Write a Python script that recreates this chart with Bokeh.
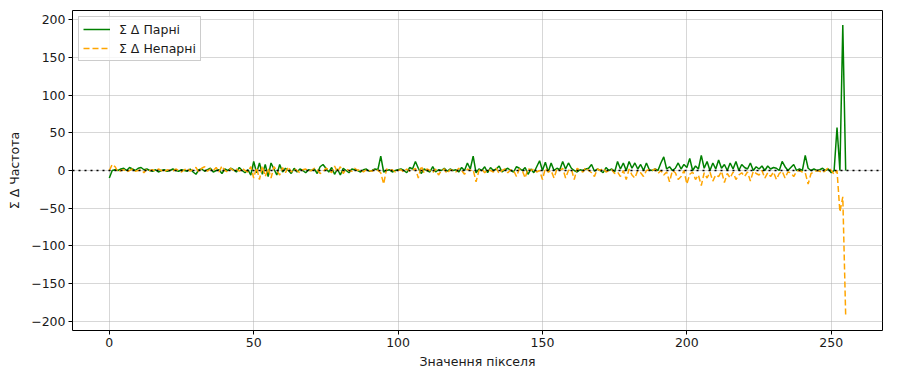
from bokeh.plotting import figure
from bokeh.models import Span, Range1d, FixedTicker, CustomJSTickFormatter, Legend, LegendItem
from bokeh.embed import file_html
from bokeh.resources import INLINE

pixels = list(range(256))

even_diff = [
    -10, 0, 1, 0, 2, 3, 0, 4, 2, 0, 3, 4, 1, 2, 0, -1,
    1, -2, 0, 1, -1, 0, 2, 0, -1, 1, 0, -1, 2, -2, -5, 1,
    2, -1, 1, 3, -2, 0, 1, -4, 2, 0, 3, 1, -2, 4, 0, -3,
    1, -6, 12, -3, 10, -5, 8, -8, 10, 2, -6, 8, -2, 3, 0, -4,
    3, -2, 2, 0, -3, 1, 0, 2, -4, 5, 8, 3, -2, 4, -5, 2,
    -6, 3, 0, -3, 2, 1, 0, -2, 1, 2, -1, 0, 2, 1, 19, -2,
    0, 1, -2, 0, 1, 2, 0, -3, 4, 2, 12, 3, -4, 2, 0, -2,
    5, -2, 1, 0, 3, -1, 2, 0, 1, -2, 4, 0, 10, 2, 19, -3,
    2, 0, 5, -3, 4, 0, 2, 6, -2, 1, 3, 0, -2, 5, 3, 0,
    4, -5, 2, -3, 5, 13, 0, 11, -2, 10, 0, 3, 1, 12, 2, 10,
    3, 0, -2, 1, 0, 2, 3, 8, -1, 2, 0, -3, 4, 0, 2, -2,
    12, 2, 10, 0, 12, 3, 10, 2, 8, 0, 10, 1, 0, 2, 0, 10,
    18, 2, 5, 0, 3, 10, 2, 8, 4, 16, 0, 6, 2, 20, 3, 12,
    0, 10, 2, 14, 3, 8, 0, 10, 2, 12, 0, 8, 4, 2, 10, 0,
    5, 2, 6, 0, 6, 2, 4, 3, 0, 12, 5, 0, 4, 8, 0, 2,
    0, 20, 3, 0, 2, 0, 1, 3, 0, 2, -3, 0, 57, 0, 193, 0,
]

odd_diff = [
    0, 8, 5, -2, 0, 1, -2, 0, 2, -1, 0, 1, -3, 2, 0, 1,
    -1, 2, 0, -2, 1, 0, -1, 2, 0, -2, 1, 3, -1, 2, 4, -2,
    3, 5, -1, 2, 0, 4, -2, 6, 0, -2, 3, 0, 2, -1, 3, 0,
    -2, 5, -10, 4, -12, 6, -8, 3, -10, 5, 0, -6, 4, -3, 5, -2,
    2, 0, -3, 1, 2, -1, 0, 3, 1, -4, -2, 3, 1, -3, 6, -2,
    5, -4, 2, 0, -1, 3, 0, 2, -2, 1, 0, -1, 2, 0, -3, -18,
    2, 0, 1, -2, 0, 1, -2, 2, -1, 0, 3, -10, 6, -3, 2, 0,
    -3, 2, -6, 0, 2, -4, 1, 0, -2, 3, 0, -5, 2, 0, 1, -15,
    0, 2, -3, 1, 0, -2, 3, -4, 0, 2, -3, 1, 0, -8, 2, 0,
    -10, 3, 0, 2, -2, 0, -12, 3, -2, 0, -10, 2, 0, 3, -10, 0,
    2, -12, 3, 0, -2, 4, 0, -3, -8, 2, 0, 3, -2, 0, 1, -4,
    -2, -8, 0, -12, 2, -6, -10, 0, -3, -8, 0, 1, 0, 2, -4, 0,
    -6, -2, -15, 0, -3, -12, -8, 0, -18, -5, -2, -12, -6, -20, -3, -10,
    -2, -14, -6, -8, -1, -16, -4, -10, -2, -12, -6, -3, -8, -2, -14, -1,
    -4, -6, 0, -10, -3, -8, -2, -12, -4, -1, -10, -2, -3, -8, -1, 0,
    -2, -3, -18, -4, -2, 0, -1, -3, 0, 4, 0, -5, 0, -55, -35, -193,
]

x_ticks = [0, 50, 100, 150, 200, 250]
y_ticks = [-200, -150, -100, -50, 0, 50, 100, 150, 200]
label_even = "Σ Δ Парні"
label_odd = "Σ Δ Непарні"
x_label = "Значення пікселя"
y_label = "Σ Δ Частота"

FONT = "DejaVu Sans"
TXT = "#1a1a1a"

p = figure(width=883, height=371, output_backend="svg", toolbar_location=None,
           x_range=Range1d(-12.75, 267.75), y_range=Range1d(-212.3, 212.3))
p.min_border_left = 72
p.min_border_right = 1
p.min_border_top = 10
p.min_border_bottom = 10

p.outline_line_color = "black"
p.outline_line_width = 1
p.background_fill_color = "white"
p.border_fill_color = "white"

for ax in (p.xaxis[0], p.yaxis[0]):
    ax.axis_line_color = None
    ax.major_tick_in = 0
    ax.major_tick_out = 4
    ax.major_tick_line_color = "black"
    ax.minor_tick_line_color = None
    ax.major_label_text_font = FONT
    ax.major_label_text_font_size = "12.5px"
    ax.major_label_text_color = TXT
    ax.major_label_standoff = 3
    ax.axis_label_text_font = FONT
    ax.axis_label_text_font_size = "12.5px"
    ax.axis_label_text_font_style = "normal"
    ax.axis_label_text_color = TXT

p.xaxis.ticker = FixedTicker(ticks=x_ticks)
p.yaxis.ticker = FixedTicker(ticks=y_ticks)
p.yaxis.formatter = CustomJSTickFormatter(code="return (tick < 0 ? '\u2212' : '') + Math.abs(tick).toFixed(0);")
p.xaxis.axis_label = x_label
p.yaxis.axis_label = y_label
p.xaxis.axis_label_standoff = 4
p.yaxis.axis_label_standoff = 6

p.xgrid.grid_line_color = "#b0b0b0"
p.ygrid.grid_line_color = "#b0b0b0"
p.xgrid.grid_line_alpha = 0.5
p.ygrid.grid_line_alpha = 0.5

zero = Span(location=0, dimension="width", line_color="black", line_dash="dotted", line_width=1.5)
p.add_layout(zero)

r1 = p.line(pixels, even_diff, line_color="green", line_width=1.5)
r2 = p.line(pixels, odd_diff, line_color="orange", line_width=1.5, line_dash="6 3")

legend = Legend(items=[LegendItem(label=label_even, renderers=[r1]),
                       LegendItem(label=label_odd, renderers=[r2])],
                location="top_left")
legend.label_text_font = FONT
legend.label_text_font_size = "12.5px"
legend.label_text_color = TXT
legend.border_line_color = "#cccccc"
legend.border_line_alpha = 1
legend.background_fill_alpha = 0.8
legend.glyph_width = 27
legend.glyph_height = 16
legend.label_height = 16
legend.spacing = 3
legend.padding = 4
legend.margin = 6
legend.label_standoff = 9
p.add_layout(legend)

open("out.html", "w").write(file_html(p, INLINE))
